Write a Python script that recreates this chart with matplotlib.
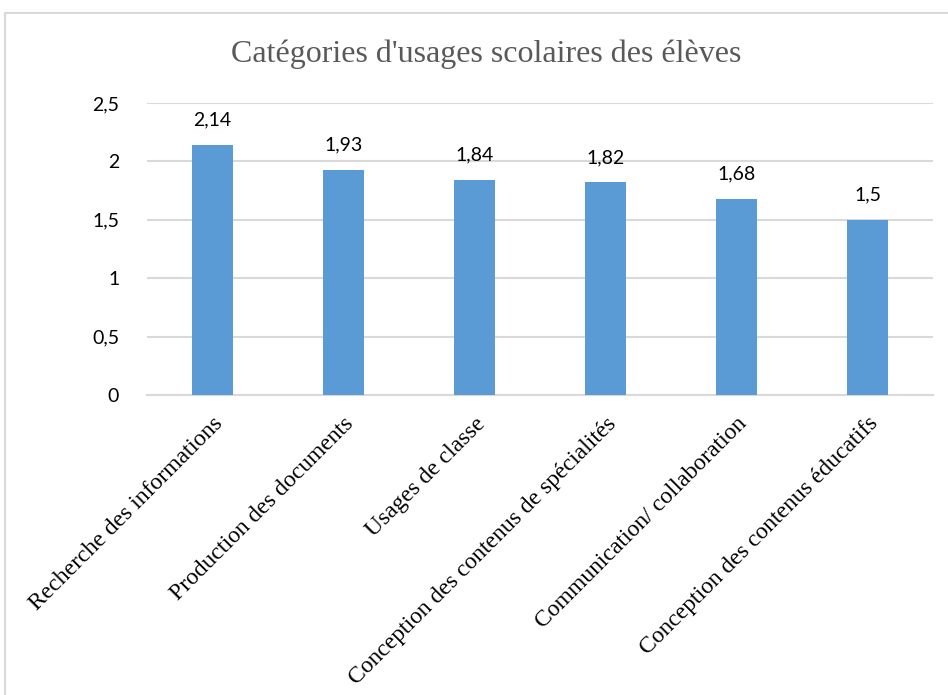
import matplotlib.pyplot as plt
from matplotlib.patches import Rectangle
from matplotlib.ticker import FuncFormatter

categories = ['Recherche des informations', 'Production des documents', 'Usages de classe',
              'Conception des contenus de spécialités', 'Communication/ collaboration',
              'Conception des contenus éducatifs']
values = [2.14, 1.93, 1.84, 1.82, 1.68, 1.5]
y_ticks = [0, 0.5, 1, 1.5, 2, 2.5]


def fr_number(v, pos=None):
    # decimal comma, like the original spreadsheet
    s = ('%g' % v)
    return s.replace('.', ',')


def main():
    fig = plt.figure(figsize=(9.48, 6.95), dpi=100)
    ax = fig.add_axes([147 / 948, 1 - 395 / 695, 786 / 948, 292 / 695])

    # light frame around the chart area
    fig.patches.append(Rectangle((5 / 948, -0.1), 1.2, 1.1 - 13 / 695,
                                 transform=fig.transFigure, fill=False,
                                 edgecolor='#d9d9d9', linewidth=1.5))

    x = list(range(len(categories)))
    ax.bar(x, values, width=0.31, color='#5b9bd5', zorder=3)

    for xi, v in zip(x, values):
        ax.text(xi, v + 0.14, fr_number(v), ha='center', va='bottom',
                fontsize=14, family='Lato', color='#000000')

    ax.set_xlim(-0.5, len(categories) - 0.5)
    ax.set_ylim(0, 2.5)
    ax.set_yticks(y_ticks)
    ax.yaxis.set_major_formatter(FuncFormatter(fr_number))
    ax.grid(axis='y', color='#d9d9d9', linewidth=1.5, zorder=0)
    ax.tick_params(axis='y', length=0, pad=20, labelsize=14)
    for lab in ax.get_yticklabels():
        lab.set_family('Lato')

    ax.set_xticks(x)
    ax.set_xticklabels(categories, rotation=45, ha='right', rotation_mode='anchor',
                       family='Liberation Serif', fontsize=17)
    ax.tick_params(axis='x', length=0, pad=13)

    for side in ['top', 'right', 'left']:
        ax.spines[side].set_visible(False)
    ax.spines['bottom'].set_color('#d9d9d9')
    ax.spines['bottom'].set_linewidth(1.5)

    fig.text(486 / 948, 1 - 54 / 695, "Catégories d'usages scolaires des élèves",
             ha='center', va='center', fontsize=23, family='Liberation Serif',
             color='#595959')

    fig.savefig('out.png', dpi=100)


if __name__ == "__main__":
    main()
